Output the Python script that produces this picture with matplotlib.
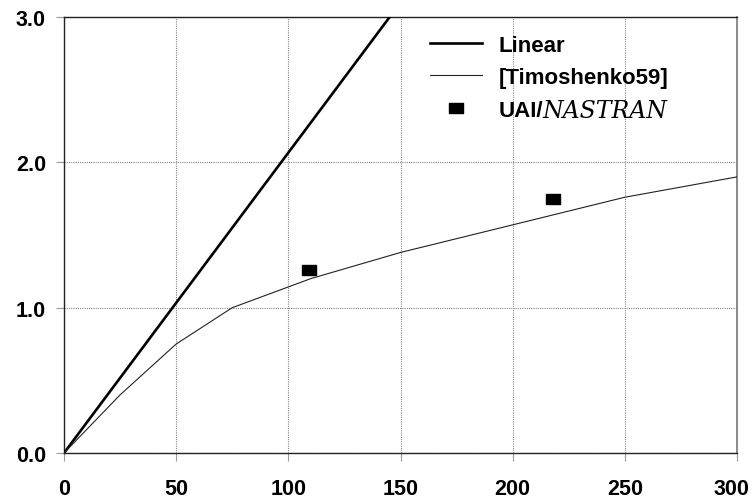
import matplotlib
matplotlib.use("Agg")
import matplotlib.pyplot as plt
import matplotlib.transforms as mtransforms
from matplotlib.path import Path

# Linear solution
linear_x = [0, 150]
linear_y = [0.0, 3.1]

# Reference curve [Timoshenko59]
timo_x = [0, 25, 50, 75, 110, 150, 200, 250, 300]
timo_y = [0.0, 0.40, 0.75, 1.0, 1.20, 1.38, 1.57, 1.76, 1.90]

# UAI/NASTRAN results
nastran_x = [109, 218]
nastran_y = [1.26, 1.75]

x_ticks = [0, 50, 100, 150, 200, 250, 300]
y_ticks = [0.0, 1.0, 2.0, 3.0]
y_labels = ["0.0", "1.0", "2.0", "3.0"]

fig = plt.figure(figsize=(7.53, 5.02), dpi=100)
ax = fig.add_axes([0.085, 0.0956, 0.8938, 0.8685])

rect = Path([(-1, -0.7), (1, -0.7), (1, 0.7), (-1, 0.7), (-1, -0.7)],
            [Path.MOVETO, Path.LINETO, Path.LINETO, Path.LINETO, Path.CLOSEPOLY])

ax.plot(linear_x, linear_y, color='black', lw=1.9, label='Linear', zorder=3)
ax.plot(timo_x, timo_y, color='#222222', lw=0.8, label='[Timoshenko59]', zorder=3)
ax.plot(nastran_x, nastran_y, linestyle='none', marker=rect, markersize=9.5,
        color='black', label='UAI/', zorder=4)

ax.set_xlim(0, 300)
ax.set_ylim(0, 3.0)
ax.set_xticks(x_ticks)
ax.set_yticks(y_ticks)
ax.set_yticklabels(y_labels)

ax.grid(True, color='#888888', linestyle=(0, (1, 1)), linewidth=0.8)
ax.tick_params(axis='both', direction='out', length=6, width=0.8, color='#999999',
               labelsize=15.5)
ax.tick_params(axis='x', pad=12)
ax.tick_params(axis='y', pad=7)
for lab in ax.get_xticklabels() + ax.get_yticklabels():
    lab.set_fontfamily('Liberation Sans')
    lab.set_fontweight('bold')

# keep the last x label inside the canvas
last = ax.get_xticklabels()[-1]
last.set_transform(last.get_transform() +
                   mtransforms.ScaledTranslation(-4 / 72, 0, fig.dpi_scale_trans))

for side in ['left', 'bottom', 'top']:
    ax.spines[side].set_color('#222222')
    ax.spines[side].set_linewidth(1.0)
ax.spines['right'].set_color('#777777')
ax.spines['right'].set_linewidth(1.2)

leg = ax.legend(loc='upper left', bbox_to_anchor=(0.53, 0.98), frameon=False,
                prop={'family': 'Liberation Sans', 'weight': 'bold', 'size': 16},
                handlelength=2.35, handletextpad=0.75, labelspacing=0.52,
                borderaxespad=0.0)

# program name in italic serif right after "UAI/"
fig.canvas.draw()
bb = leg.get_texts()[2].get_window_extent(fig.canvas.get_renderer())
x0, y0 = fig.transFigure.inverted().transform((bb.x1 - 1, bb.y0 - 1.5))
fig.text(x0, y0, 'NASTRAN', ha='left', va='bottom', fontsize=17,
         fontstyle='italic', fontfamily='DejaVu Serif')

fig.savefig('out.png', dpi=100)
